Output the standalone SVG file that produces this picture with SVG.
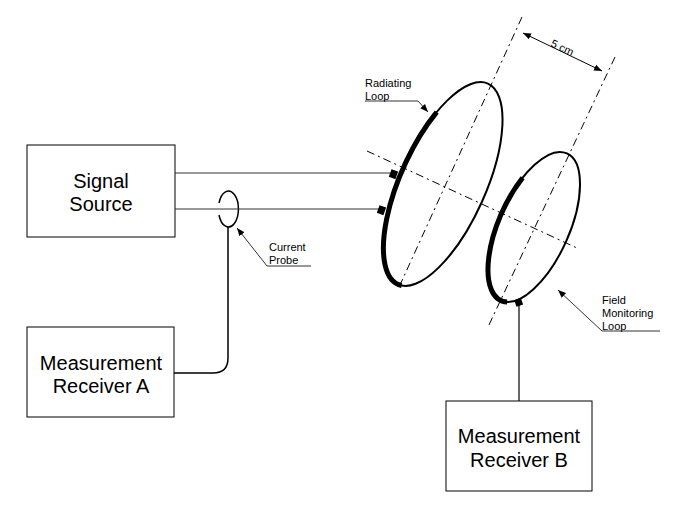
<svg xmlns="http://www.w3.org/2000/svg" width="675" height="528" viewBox="0 0 675 528">
<style>
.box{fill:#fff;stroke:#000;stroke-width:1}
.big{font-family:"Liberation Sans",Arial,sans-serif;font-size:20px;text-anchor:middle}
.sm{font-family:"Liberation Sans",Arial,sans-serif;font-size:11px}
.thin{fill:none;stroke:#333;stroke-width:1}
.dd{fill:none;stroke:#000;stroke-width:1;stroke-dasharray:8 4 2 4}
.loop{fill:none;stroke:#000;stroke-width:2}
.thick{fill:none;stroke:#000;stroke-width:5}
</style>
<defs>
<marker id="ah" viewBox="0 0 10 10" refX="10" refY="5" markerWidth="8" markerHeight="8" orient="auto-start-reverse" markerUnits="userSpaceOnUse">
<path d="M0,1 L10,5 L0,9 z" fill="#000"/>
</marker>
</defs>
<rect width="675" height="528" fill="#fff"/>
<g id="axes">
<line class="dd" x1="522" y1="17" x2="400" y2="285"/>
<line class="dd" x1="615" y1="57" x2="488" y2="327"/>
<line class="dd" x1="367" y1="151" x2="577" y2="248"/>
</g>
<g id="radiating-loop" transform="translate(443,184) rotate(-65.9)">
<ellipse class="loop" cx="0" cy="0" rx="110" ry="42.8"/>
<path class="thick" d="M63.1,-35.1 A110,42.8 0 0 0 -109.6,3.7"/>
</g>
<g id="field-loop" transform="translate(534,227) rotate(-65.9)">
<ellipse class="loop" cx="0" cy="0" rx="80.6" ry="35.2"/>
<path class="thick" d="M40.3,-30.5 A80.6,35.2 0 0 0 -79.4,6.1"/>
</g>
<g id="signal-source"><rect class="box" x="27" y="145" width="148" height="92"/>
<text class="big" x="101" y="188">Signal</text><text class="big" x="101" y="211">Source</text></g>
<g id="receiver-a"><rect class="box" x="27" y="327" width="147" height="90"/>
<text class="big" x="101" y="370">Measurement</text><text class="big" x="101" y="393">Receiver A</text></g>
<g id="receiver-b"><rect class="box" x="446" y="401" width="146" height="90"/>
<text class="big" x="519" y="443">Measurement</text><text class="big" x="519" y="467">Receiver B</text></g>
<g id="current-probe">
<path d="M219,203 A10,18 0 1 1 219,215" fill="none" stroke="#000" stroke-width="1.5"/>
</g>
<g id="connectors">
<line class="thin" x1="175" y1="173" x2="392" y2="173"/>
<line class="thin" x1="175" y1="209" x2="379" y2="209"/>
<rect x="390" y="170" width="7" height="8" fill="#000" transform="rotate(20 393 174)"/>
<rect x="378" y="206" width="7" height="8" fill="#000" transform="rotate(20 381 210)"/>
<path d="M228,227 V358 Q228,373 213,373 H174" fill="none" stroke="#000" stroke-width="1.5"/>
<line x1="519" y1="401" x2="519" y2="305" stroke="#000" stroke-width="1.2"/>
<rect x="515" y="299" width="7" height="7" fill="#000" transform="rotate(-20 518 302)"/>
<line x1="523" y1="33" x2="602" y2="71" stroke="#000" stroke-width="1" marker-start="url(#ah)" marker-end="url(#ah)"/>
<polyline points="365,101 418,101 428,112" class="thin" marker-end="url(#ah)"/>
<polyline points="311,266 267,266 237,228" class="thin" marker-end="url(#ah)"/>
<polyline points="660,331 602,331 558,290" class="thin" marker-end="url(#ah)"/>
</g>
<g id="labels">
<text class="sm" x="365" y="87">Radiating</text><text class="sm" x="365" y="100">Loop</text>
<text class="sm" x="269" y="251">Current</text><text class="sm" x="269" y="264">Probe</text>
<text class="sm" x="602" y="304">Field</text><text class="sm" x="602" y="317">Monitoring</text><text class="sm" x="602" y="330">Loop</text>
<text class="sm" transform="translate(550,46) rotate(25)">5 cm</text>
</g>
</svg>
